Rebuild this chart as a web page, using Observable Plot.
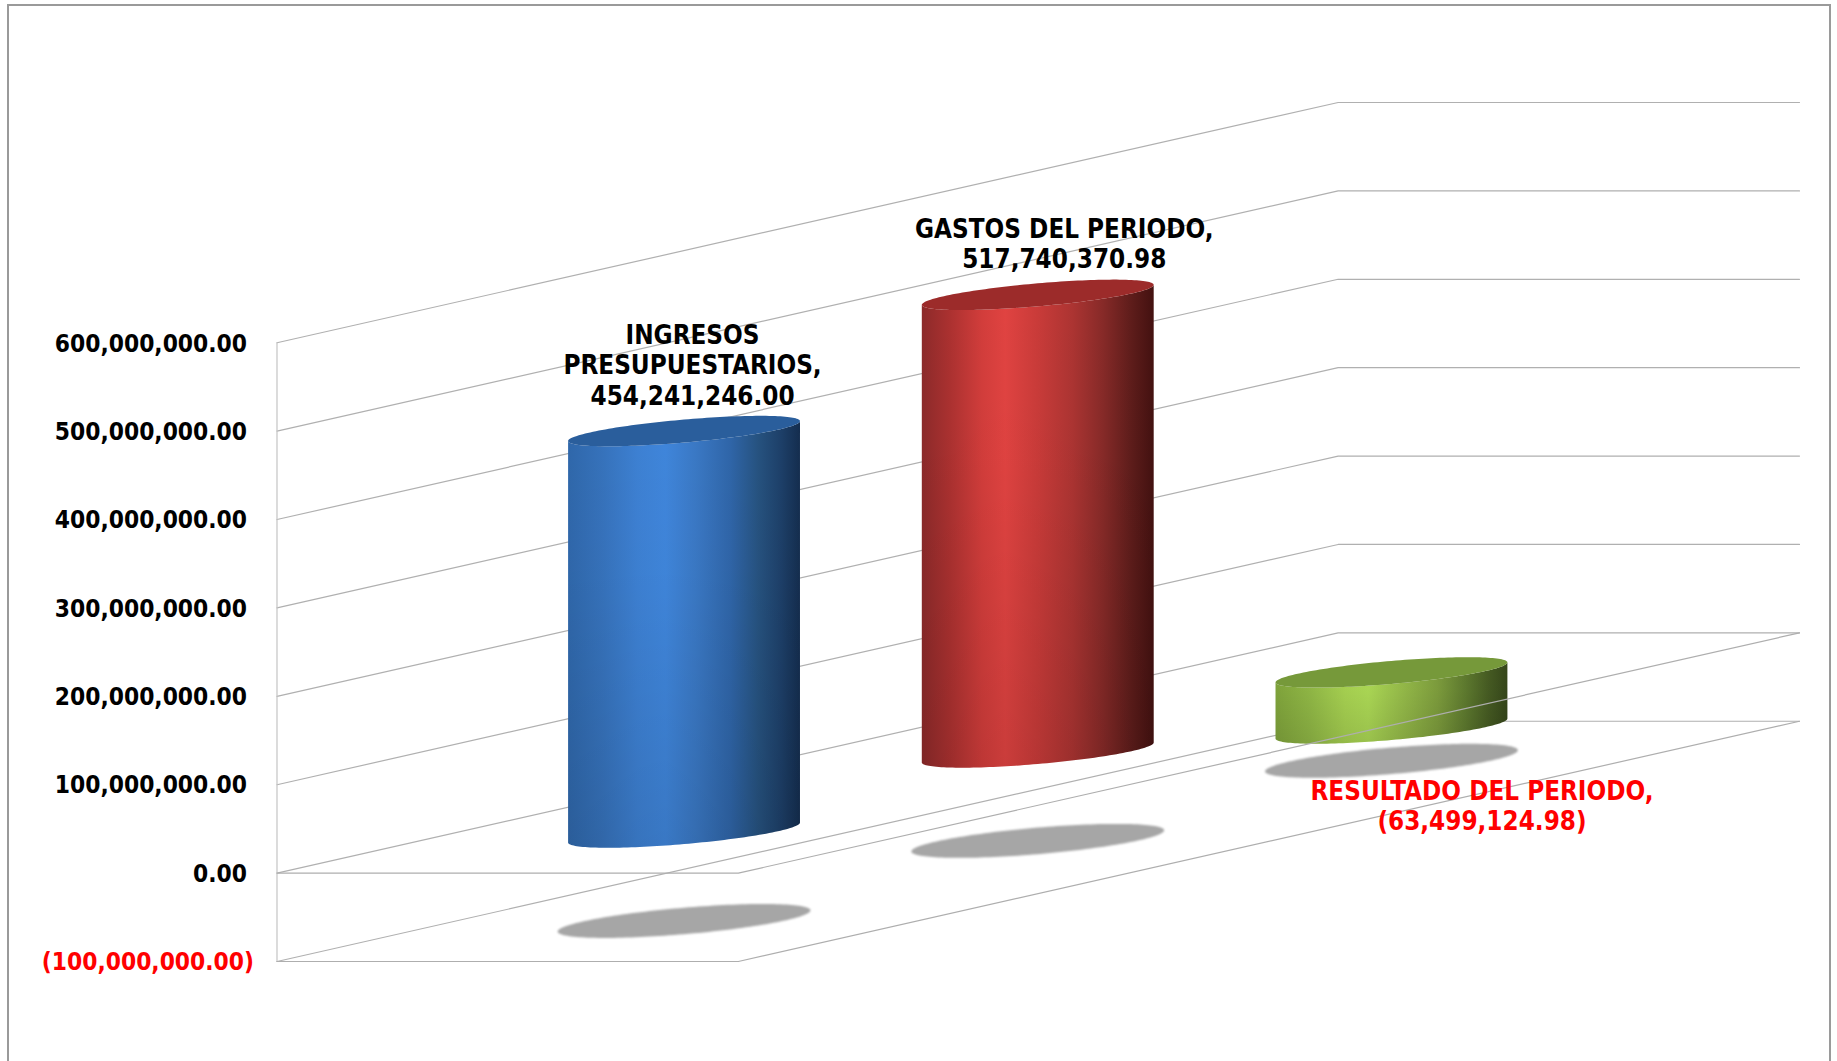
<!DOCTYPE html>
<html><head><meta charset="utf-8">
<script src="https://cdn.jsdelivr.net/npm/d3@7"></script>
<script src="https://cdn.jsdelivr.net/npm/@observablehq/plot@0.6"></script>
<style>
html,body{margin:0;padding:0;background:#fff;overflow:hidden;width:1837px;height:1061px}
#frame{position:absolute;left:7px;top:4px;width:1820px;height:1100px;border:2.5px solid #9a9a9a}
#chart{position:absolute;left:0;top:0}
svg{display:block}
</style></head><body>
<div id="frame"></div>
<div id="chart"></div>
<script>
const categories = ["INGRESOS\nPRESUPUESTARIOS,", "GASTOS DEL PERIODO,", "RESULTADO DEL PERIODO,"];
const values = [454241246.00, 517740370.98, -63499124.98];
const valueLabels = ["454,241,246.00", "517,740,370.98", "(63,499,124.98)"];
const labelColors = ["#000000", "#000000", "#ff0000"];
const gradientIds = ["cylBlue", "cylRed", "cylGreen"];
const capColors = ["#2a5e9c", "#9c2b2a", "#76993a"];
const gradientStops = [
  [[0,"#2f67aa"],[0.15,"#3672bb"],[0.3,"#3d80d2"],[0.42,"#3f85da"],[0.55,"#3a78c4"],[0.7,"#2f65a8"],[0.82,"#26527f"],[0.92,"#1d3f68"],[1,"#142d4e"]],
  [[0,"#8c2a2a"],[0.12,"#ab3130"],[0.26,"#d23d3b"],[0.36,"#e04341"],[0.5,"#c93b39"],[0.65,"#ac3432"],[0.78,"#872a28"],[0.9,"#5f1d1b"],[1,"#431110"]],
  [[0,"#7fa33b"],[0.15,"#8fb645"],[0.3,"#a5cf50"],[0.4,"#aad654"],[0.55,"#93b848"],[0.7,"#7c9b3c"],[0.82,"#5d792e"],[0.92,"#455a22"],[1,"#35461a"]]
];
const yTicks = [0, 100e6, 200e6, 300e6, 400e6, 500e6, 600e6];
const negTicks = [-100e6];
const depths = [1/6, 1/2, 5/6];      // position of each cylinder along the depth axis

// oblique projection: chart width = 1 unit, depth adds x and value height
const DX = 2.3, DY = 271.8e6, CAT = 0.5;
const px = (a, d) => a + DX * d;
const py = (v, d) => v + DY * d;

const wallLines = [...negTicks, ...yTicks].flatMap(v => [
  {k:v, x:px(0,0), y:py(v,0)}, {k:v, x:px(0,1), y:py(v,1)}, {k:v, x:px(1,1), y:py(v,1)}
]);
const floorLines = [-100e6, 0].flatMap(v => [
  {k:v, x:px(0,0), y:py(v,0)}, {k:v, x:px(1,0), y:py(v,0)}, {k:v, x:px(1,1), y:py(v,1)}
]);
const spine = [{x:0,y:-100e6},{x:0,y:600e6}];

const samples = d3.range(0, 81).map(i => -Math.cos(Math.PI * i / 80));
const HW = 0.2513, TILT = 11.3e6, B = 13e6;
const ell = (c, t, b, sign) => c * t + sign * b * Math.sqrt(Math.max(0, 1 - c * c));

const sides = values.map((v, i) => samples.map(c => {
  const d = depths[i], hi = Math.max(0, v), lo = Math.min(0, v);
  return {x: px(CAT, d) + c * HW,
          y1: py(lo, d) + ell(c, TILT, B, -1),
          y2: py(hi, d) + ell(c, TILT, B, -1)};
}));
const caps = values.map((v, i) => samples.map(c => {
  const d = depths[i], hi = Math.max(0, v);
  return {x: px(CAT, d) + c * HW,
          y1: py(hi, d) + ell(c, TILT, B, -1),
          y2: py(hi, d) + ell(c, TILT, B, 1)};
}));
const shadows = depths.map(d => samples.map(c => ({
  x: px(CAT, d) + c * 0.274,
  y1: py(-100e6, d) + ell(c, 12e6, 15e6, -1),
  y2: py(-100e6, d) + ell(c, 12e6, 15e6, 1)
})));

const labelAt = values.map((v, i) => ({
  x: px(CAT, depths[i]),
  y: py(v, depths[i]),
  text: categories[i] + "\n" + valueLabels[i],
  fill: labelColors[i]
}));
const labelOffsets = [[8,-67],[26,-52],[90,76]];

const fmt = d3.format(",.2f");
const defs = () => {
  const g = d3.create("svg:defs");
  gradientIds.forEach((id, i) => {
    const lg = g.append("linearGradient").attr("id", id).attr("x1",0).attr("x2",1).attr("y1",0).attr("y2",0);
    gradientStops[i].forEach(([o,c]) => lg.append("stop").attr("offset",o).attr("stop-color",c));
  });
  const sh = g.append("linearGradient").attr("id","cylShade").attr("x1",0).attr("x2",0).attr("y1",0).attr("y2",1);
  sh.append("stop").attr("offset",0).attr("stop-color","#000").attr("stop-opacity",0);
  sh.append("stop").attr("offset",0.35).attr("stop-color","#000").attr("stop-opacity",0.01);
  sh.append("stop").attr("offset",1).attr("stop-color","#000").attr("stop-opacity",0.1);
  return g.node();
};

const chart = Plot.plot({
  width: 1837, height: 1061,
  marginLeft: 276.5, marginRight: 38, marginTop: 102, marginBottom: 100,
  x: {domain: [0, 3.3], axis: null},
  y: {domain: [-100e6, 600e6 + DY], axis: null},
  style: {fontFamily: "'DejaVu Sans Condensed','DejaVu Sans',sans-serif", background: "transparent", overflow: "visible"},
  marks: [
    defs,
    Plot.line(wallLines, {x:"x", y:"y", z:"k", stroke:"#b0b0b0", strokeWidth:1.2}),
    Plot.line(spine, {x:"x", y:"y", stroke:"#c4c4c4", strokeWidth:1.2}),
    ...shadows.map(s => Plot.areaY(s, {x:"x", y1:"y1", y2:"y2", fill:"#a6a6a6", imageFilter:"blur(1.2px)"})),
    ...sides.map((s, i) => Plot.areaY(s, {x:"x", y1:"y1", y2:"y2", fill:`url(#${gradientIds[i]})`})),
    ...sides.map(s => Plot.areaY(s, {x:"x", y1:"y1", y2:"y2", fill:"url(#cylShade)"})),
    ...caps.map((s, i) => Plot.areaY(s, {x:"x", y1:"y1", y2:"y2", fill:capColors[i]})),
    Plot.line(floorLines, {x:"x", y:"y", z:"k", stroke:"#aeaeae", strokeWidth:1.2}),
    Plot.axisY(yTicks, {anchor:"left", tickSize:0, tickPadding:30, dy:1, label:null, tickFormat:fmt, fill:"#000", fontSize:24.3, fontWeight:"bold"}),
    Plot.axisY(negTicks, {anchor:"left", tickSize:0, tickPadding:23, dy:1, label:null, tickFormat:v => `(${fmt(Math.abs(v))})`, fill:"#ff0000", fontSize:24.3, fontWeight:"bold"}),
    ...labelAt.map((l, i) => Plot.text([l], {x:"x", y:"y", text:"text", fill:l.fill, dx:labelOffsets[i][0], dy:labelOffsets[i][1], lineHeight:1.18, textAnchor:"middle", fontSize:25.8, fontWeight:"bold"}))
  ]
});
document.getElementById("chart").appendChild(chart);
</script>
</body></html>
